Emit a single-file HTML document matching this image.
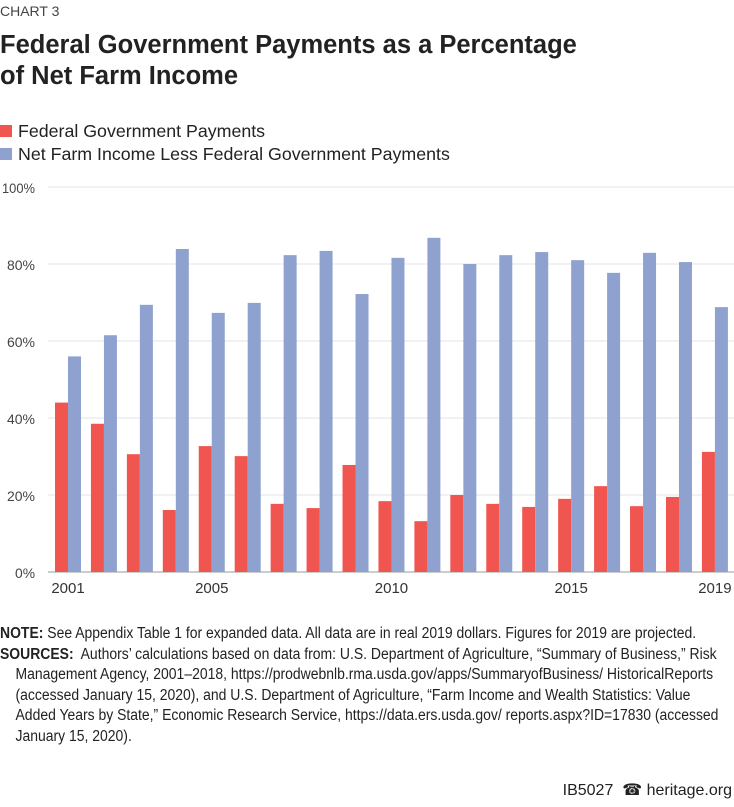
<!DOCTYPE html>
<html><head><meta charset="utf-8"><style>
body{margin:0;width:734px;height:807px;background:#fff;font-family:"Liberation Sans",sans-serif;color:#222;overflow:hidden;position:relative}
.a{position:absolute;white-space:nowrap}
.n{transform:scaleX(0.90);transform-origin:0 0}
</style></head><body>
<div class="a" style="left:0;top:3px;font-size:14px;color:#444">CHART 3</div>
<div class="a" style="left:0;top:30px;font-size:25.5px;font-weight:bold;line-height:31px;color:#222">Federal Government Payments as a Percentage<br>of Net Farm Income</div>
<div class="a" style="left:0;top:121px;font-size:17.8px"><span style="display:inline-block;width:12px;height:12px;background:#f0554f;margin-right:6px"></span>Federal Government Payments</div>
<div class="a" style="left:0;top:144px;font-size:17.8px"><span style="display:inline-block;width:12px;height:12px;background:#8fa2cf;margin-right:6px"></span>Net Farm Income Less Federal Government Payments</div>
<svg class="a" style="left:0;top:0" width="734" height="620" id="svg"></svg>
<div class="a n" style="left:0;top:624px;font-size:15.5px;line-height:20.6px;color:#222">
<b>NOTE:</b> See Appendix Table 1 for expanded data. All data are in real 2019 dollars. Figures for 2019 are projected.<br>
<b>SOURCES:</b>&nbsp; Authors’ calculations based on data from: U.S. Department of Agriculture, “Summary of Business,” Risk<br>
&nbsp;&nbsp;&nbsp;&nbsp;Management Agency, 2001–2018, https://prodwebnlb.rma.usda.gov/apps/SummaryofBusiness/ HistoricalReports<br>
&nbsp;&nbsp;&nbsp;&nbsp;(accessed January 15, 2020), and U.S. Department of Agriculture, “Farm Income and Wealth Statistics: Value<br>
&nbsp;&nbsp;&nbsp;&nbsp;Added Years by State,” Economic Research Service, https://data.ers.usda.gov/ reports.aspx?ID=17830 (accessed<br>
&nbsp;&nbsp;&nbsp;&nbsp;January 15, 2020).</div>
<div class="a" style="right:2px;top:780px;font-size:16px;color:#222">IB5027 &nbsp;☎ heritage.org</div>
<script>
const years=[2001,2002,2003,2004,2005,2006,2007,2008,2009,2010,2011,2012,2013,2014,2015,2016,2017,2018,2019];
const federal=[44,38.5,30.6,16.1,32.7,30.1,17.7,16.6,27.8,18.4,13.2,20,17.7,16.9,19,22.3,17.1,19.5,31.2];
const netLess=[56,61.5,69.4,83.9,67.3,69.9,82.3,83.4,72.2,81.6,86.8,80,82.3,83.1,81,77.7,82.9,80.5,68.8];
const yTicks=[0,20,40,60,80,100];
const xLabels=[2001,2005,2010,2015,2019];
const svg=document.getElementById('svg');const NS='http://www.w3.org/2000/svg';
const y=v=>572-v*3.85;
const x=i=>55+i*35.94;
function mk(t,a){const e=document.createElementNS(NS,t);for(const k in a)e.setAttribute(k,a[k]);svg.appendChild(e);return e;}
yTicks.forEach(v=>{
 const l=mk('line',{x1:48,x2:734,y1:y(v),y2:y(v),stroke:v?'#e3e3e3':'#999','stroke-width':1});
 
 
 const t=mk('text',{x:35,y:y(v)+6,'text-anchor':'end','font-size':14,fill:'#444',textLength:v===100?33:(v?28:20),lengthAdjust:'spacingAndGlyphs'});
 t.textContent=v+'%';
 
 
});
years.forEach((yr,i)=>{
 const r=mk('rect',{x:x(i),y:y(federal[i]),width:13,height:572-y(federal[i]),fill:'#f0554f'});
 
 
 const b=mk('rect',{x:x(i)+13,y:y(netLess[i]),width:13,height:572-y(netLess[i]),fill:'#8fa2cf'});
 
 
});
xLabels.forEach(yr=>{
 const i=years.indexOf(yr);
 const t=mk('text',{x:x(i)+13,y:593,'text-anchor':'middle','font-size':15,fill:'#333'});
 t.textContent=yr;
 
 
});
</script>
</body></html>
